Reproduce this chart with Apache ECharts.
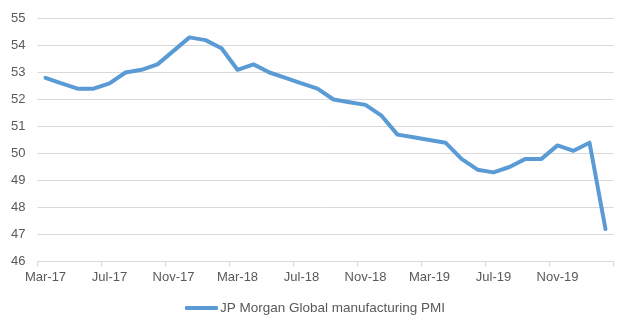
<!DOCTYPE html>
<html>
<head>
<meta charset="utf-8">
<script src="https://cdn.jsdelivr.net/npm/echarts@6/dist/echarts.min.js"></script>
<style>
html,body{margin:0;padding:0;background:#fff;}
#chart{width:630px;height:330px;}
</style>
</head>
<body>
<div id="chart"></div>
<script>
const months = ['Mar-17','Apr-17','May-17','Jun-17','Jul-17','Aug-17','Sep-17','Oct-17','Nov-17','Dec-17','Jan-18','Feb-18',
  'Mar-18','Apr-18','May-18','Jun-18','Jul-18','Aug-18','Sep-18','Oct-18','Nov-18','Dec-18','Jan-19','Feb-19',
  'Mar-19','Apr-19','May-19','Jun-19','Jul-19','Aug-19','Sep-19','Oct-19','Nov-19','Dec-19','Jan-20','Feb-20'];
const pmiValues = [52.8,52.6,52.4,52.4,52.6,53.0,53.1,53.3,53.8,54.3,54.2,53.9,
  53.1,53.3,53.0,52.8,52.6,52.4,52.0,51.9,51.8,51.4,50.7,50.6,
  50.5,50.4,49.8,49.4,49.3,49.5,49.8,49.8,50.3,50.1,50.4,47.2];
const seriesName = 'JP Morgan Global manufacturing PMI';
const yMin = 46, yMax = 55, yStep = 1;

const chart = echarts.init(document.getElementById('chart'), null, {renderer:'canvas'});
const font = 'Liberation Sans, Arial, sans-serif';
chart.setOption({
  animation: false,
  backgroundColor: '#ffffff',
  grid: {left: 37.5, right: 16.5, top: 18.5, bottom: 68.5, containLabel: false},
  xAxis: {
    type: 'category',
    data: months,
    boundaryGap: true,
    axisLine: {show: true, lineStyle: {color: '#d9d9d9', width: 1}},
    axisTick: {show: true, interval: 3, length: 5, lineStyle: {color: '#d9d9d9'}},
    axisLabel: {interval: 3, color: '#595959', fontFamily: font, fontSize: 13, margin: 9},
    splitLine: {show: false}
  },
  yAxis: {
    type: 'value',
    min: yMin, max: yMax, interval: yStep,
    axisLine: {show: false},
    axisTick: {show: false},
    axisLabel: {color: '#595959', fontFamily: font, fontSize: 13, margin: 12},
    splitLine: {show: true, lineStyle: {color: '#d9d9d9', width: 1}}
  },
  legend: {
    bottom: 10,
    left: 'center',
    itemWidth: 33,
    itemHeight: 4,
    itemGap: 0,
    icon: 'roundRect',
    textStyle: {color: '#595959', fontFamily: font, fontSize: 13.5, padding: [0, 0, 0, -3]},
    data: [seriesName]
  },
  series: [{
    name: seriesName,
    type: 'line',
    data: pmiValues,
    symbol: 'none',
    lineStyle: {color: '#5b9bd5', width: 4, cap: 'round', join: 'round'},
    itemStyle: {color: '#5b9bd5'}
  }]
});
</script>
</body>
</html>
